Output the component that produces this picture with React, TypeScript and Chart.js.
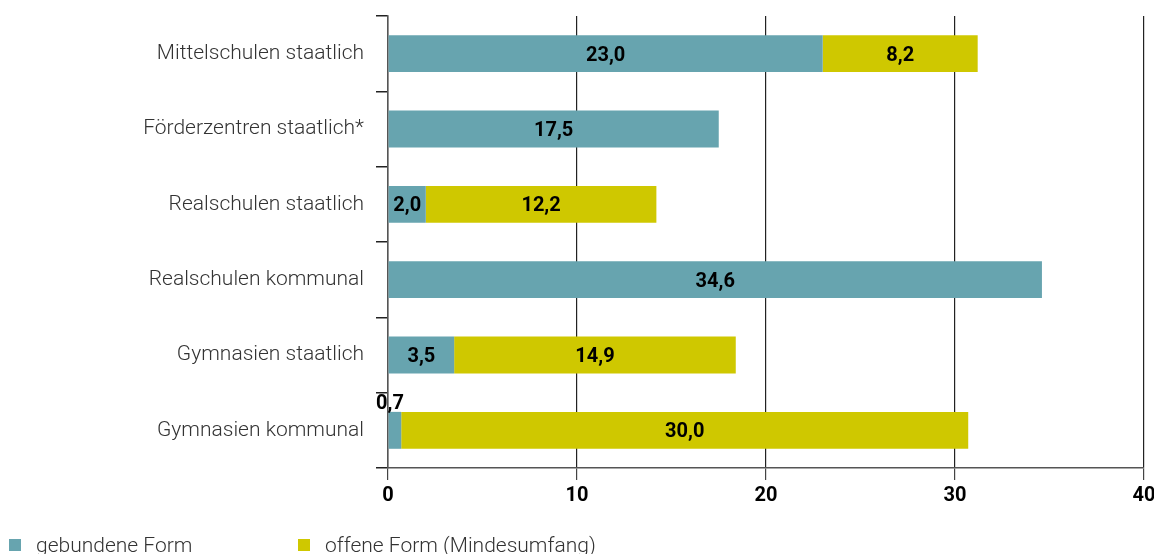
import React, { useEffect, useRef } from "react";
import { Chart, registerables } from "chart.js";

Chart.register(...registerables);

const categories = [
  "Mittelschulen staatlich",
  "Förderzentren staatlich*",
  "Realschulen staatlich",
  "Realschulen kommunal",
  "Gymnasien staatlich",
  "Gymnasien kommunal",
];
const gebunden = [23.0, 17.5, 2.0, 34.6, 3.5, 0.7];
const offen = [8.2, null, 12.2, null, 14.9, 30.0];
const seriesNames = ["gebundene Form", "offene Form (Mindesumfang)"];
const colors = ["#67A4AF", "#CFC800"];
const xTicks = [0, 10, 20, 30, 40];

const FONT = "Roboto, 'Liberation Sans', sans-serif";

const labelPlugin = {
  id: "barLabels",
  afterDatasetsDraw(chart: any) {
    const ctx = chart.ctx;
    ctx.save();
    ctx.font = `bold 20px ${FONT}`;
    ctx.fillStyle = "#000";
    ctx.textAlign = "center";
    chart.data.datasets.forEach((ds: any, di: number) => {
      const meta = chart.getDatasetMeta(di);
      meta.data.forEach((bar: any, i: number) => {
        const v = ds.data[i];
        if (v == null) return;
        const txt = v.toFixed(1).replace(".", ",");
        const w = Math.abs(bar.x - bar.base);
        const cx = (bar.x + bar.base) / 2;
        if (w < 30) {
          ctx.textBaseline = "bottom";
          ctx.fillText(txt, cx - 5, bar.y - bar.height / 2 + 2);
        } else {
          ctx.textBaseline = "middle";
          ctx.fillText(txt, cx, bar.y + 2);
        }
      });
    });
    ctx.restore();
  },
};

const legendPlugin = {
  id: "customLegend",
  afterDraw(chart: any) {
    const ctx = chart.ctx;
    ctx.save();
    const y = 546;
    const xs = [9, 298];
    seriesNames.forEach((name, i) => {
      ctx.fillStyle = colors[i];
      ctx.fillRect(xs[i], y - 7, 12, 12);
      ctx.fillStyle = "#333";
      ctx.font = `300 21px ${FONT}`;
      ctx.textAlign = "left";
      ctx.textBaseline = "middle";
      ctx.fillText(name, xs[i] + 27, y + 1);
    });
    ctx.restore();
  },
};

export default function App() {
  const ref = useRef<HTMLCanvasElement>(null);
  useEffect(() => {
    const chart = new Chart(ref.current!, {
      type: "bar",
      data: {
        labels: categories,
        datasets: [
          {
            label: seriesNames[0],
            data: gebunden,
            backgroundColor: colors[0],
            categoryPercentage: 1,
            barPercentage: 0.49,
          },
          {
            label: seriesNames[1],
            data: offen as any,
            backgroundColor: colors[1],
            categoryPercentage: 1,
            barPercentage: 0.49,
          },
        ],
      },
      options: {
        indexAxis: "y",
        animation: false,
        responsive: false,
        maintainAspectRatio: false,
        layout: { padding: { top: 16, right: 10, bottom: 46, left: 0 } },
        plugins: { legend: { display: false }, tooltip: { enabled: false } },
        scales: {
          x: {
            stacked: true,
            min: 0,
            max: 40,
            afterBuildTicks: (s: any) => {
              s.ticks = xTicks.map((v) => ({ value: v }));
            },
            afterFit: (s: any) => {
              s.height = 40;
              s.paddingLeft = 0;
              s.paddingRight = 0;
            },
            grid: {
              color: "#222",
              lineWidth: 1.2,
              tickLength: 12,
              tickColor: "#444",
            },
            border: { display: true, color: "#555", width: 1.5 },
            ticks: {
              color: "#000",
              font: { family: FONT, size: 20, weight: "bold" },
              padding: 4,
            },
          },
          y: {
            stacked: true,
            afterFit: (s: any) => {
              s.width = 388;
              s.paddingTop = 0;
              s.paddingBottom = 0;
            },
            grid: {
              offset: true,
              drawOnChartArea: false,
              tickLength: 12,
              tickColor: "#222",
              lineWidth: 1.5,
            },
            border: { display: true, color: "#555", width: 1.5 },
            ticks: {
              color: "#333",
              font: { family: FONT, size: 21, weight: 300 },
              padding: 12,
            },
          },
        },
      },
      plugins: [labelPlugin, legendPlugin],
    });
    return () => chart.destroy();
  }, []);
  return (
    <div style={{ position: "absolute", left: 0, top: 0, width: 1154, height: 554 }}>
      <canvas ref={ref} width={1154} height={554} style={{ width: 1154, height: 554 }} />
    </div>
  );
}
